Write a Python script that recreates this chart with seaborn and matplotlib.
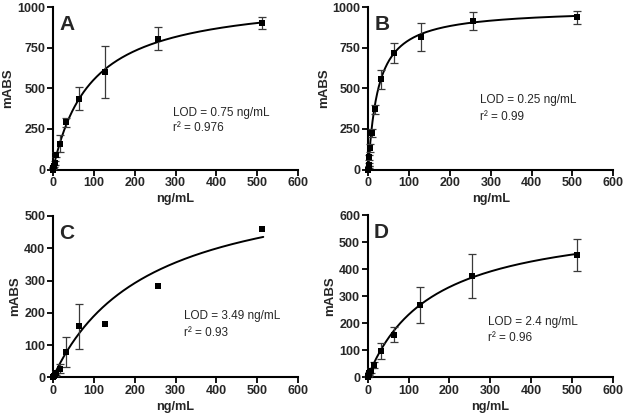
import numpy as np
import pandas as pd
import matplotlib
matplotlib.use("Agg")
import matplotlib.pyplot as plt
import seaborn as sns

# ---- data ----
conc = [0, 0.5, 1, 2, 4, 8, 16, 32, 64, 128, 256, 512]

a_mean = [0, 5, 12, 20, 40, 90, 160, 290, 436, 598, 805, 900]
a_err = [0, 2, 3, 5, 10, 15, 55, 30, 70, 160, 70, 37]
b_mean = [0, 15, 30, 75, 134, 226, 370, 555, 718, 817, 916, 936]
b_err = [0, 5, 8, 15, 25, 25, 30, 60, 62, 85, 55, 38]
c_mean = [0, 1, 2, 4, 7, 13, 27, 78, 158, 165, 283, 461]
c_err = [0, 0, 0, 1, 3, 5, 15, 47, 70, 0, 0, 0]
d_mean = [0, 2, 4, 8, 15, 25, 46, 97, 158, 267, 375, 453]
d_err = [0, 1, 2, 3, 5, 8, 12, 30, 27, 65, 80, 60]

# one-site binding fit parameters (Bmax, Kd)
fit_bmax = [1070, 990, 632, 597]
fit_kd = [93.4, 24.2, 233, 158]

panel_letters = ["A", "B", "C", "D"]
lod_text = ["LOD = 0.75 ng/mL", "LOD = 0.25 ng/mL", "LOD = 3.49 ng/mL", "LOD = 2.4 ng/mL"]
r2_text = ["r² = 0.976", "r² = 0.99", "r² = 0.93", "r² = 0.96"]
y_max = [1000, 1000, 500, 600]
y_ticks = [[0, 250, 500, 750, 1000], [0, 250, 500, 750, 1000],
           [0, 100, 200, 300, 400, 500], [0, 100, 200, 300, 400, 500, 600]]
x_ticks = [0, 100, 200, 300, 400, 500, 600]

means = [a_mean, b_mean, c_mean, d_mean]
errs = [a_err, b_err, c_err, d_err]

# ---- style ----
sns.set_style("ticks")
plt.rcParams["font.family"] = ["Liberation Sans", "DejaVu Sans"]

fig = plt.figure(figsize=(6.27, 4.17), dpi=100)
W, H = 627.0, 417.0
# axes boxes in pixels: left, top, right, bottom
boxes = [(53, 7, 298, 169.5), (368.3, 7, 613.3, 169.5),
         (53, 216, 298, 377.3), (367.7, 215, 612.7, 377.3)]
ann_pos = [((0.489, 0.35), (0.489, 0.257)), ((0.456, 0.428), (0.456, 0.325)),
           ((0.536, 0.38), (0.536, 0.277)), ((0.492, 0.339), (0.492, 0.244))]

for i in range(4):
    l, t, r, b = boxes[i]
    ax = fig.add_axes([l / W, 1 - b / H, (r - l) / W, (b - t) / H])
    df = pd.DataFrame({"conc": conc, "mABS": means[i], "err": errs[i]})

    # fitted hyperbola
    xs = np.linspace(0, 515, 400)
    ys = fit_bmax[i] * xs / (fit_kd[i] + xs)
    sns.lineplot(x=xs, y=ys, ax=ax, color="black", linewidth=1.4, zorder=2)

    # error bars (only where an error was drawn)
    de = df[df["err"] > 0]
    ax.errorbar(de["conc"], de["mABS"], yerr=de["err"], fmt="none",
                ecolor="#3a3a3a", elinewidth=0.9, capsize=3, capthick=0.9,
                zorder=3, clip_on=False)
    # markers
    sns.scatterplot(data=df, x="conc", y="mABS", ax=ax, marker="s", s=17,
                    color="black", edgecolor="black", linewidth=0, zorder=4,
                    clip_on=False)

    ax.set_xlim(0, 600)
    ax.set_ylim(0, y_max[i])
    ax.set_xticks(x_ticks)
    ax.set_yticks(y_ticks[i])
    sns.despine(ax=ax)
    for sp in ["left", "bottom"]:
        ax.spines[sp].set_linewidth(1.5)
        ax.spines[sp].set_color("black")
    ax.tick_params(axis="both", length=4, width=1.3, color="black",
                   labelsize=9, pad=1.5)
    for lab in ax.get_xticklabels() + ax.get_yticklabels():
        lab.set_fontweight("bold")
    ax.set_xlabel("ng/mL", fontsize=9.2, fontweight="bold", labelpad=3)
    ax.set_ylabel("mABS", fontsize=9.5, fontweight="bold", labelpad=2)

    ax.text(0.025, 0.89, panel_letters[i], transform=ax.transAxes,
            fontsize=15, fontweight="bold", va="center", ha="left")
    (x1, y1), (x2, y2) = ann_pos[i]
    ax.text(x1, y1, lod_text[i], transform=ax.transAxes, fontsize=8.5,
            va="center", ha="left")
    ax.text(x2, y2, r2_text[i], transform=ax.transAxes, fontsize=8.5,
            va="center", ha="left")

fig.savefig("out.png", dpi=100)
